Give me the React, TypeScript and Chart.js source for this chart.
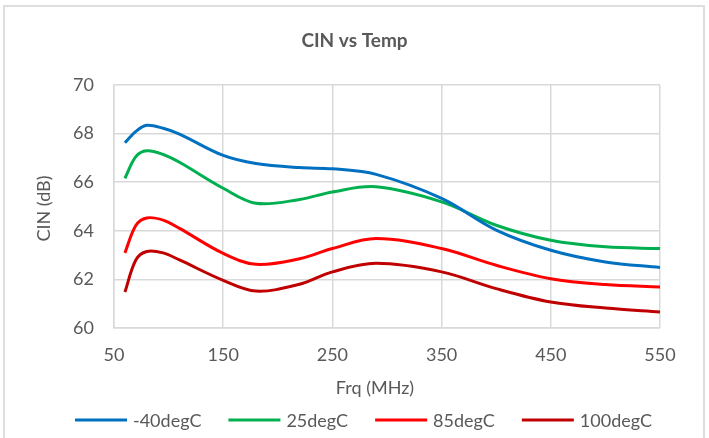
import React, { useEffect, useRef } from 'react';
import { Chart, registerables } from 'chart.js';

Chart.register(...registerables);

const chartTitle = 'CIN vs Temp';
const xAxisTitle = 'Frq (MHz)';
const yAxisTitle = 'CIN (dB)';

const frequencies = [60, 70, 80, 95, 110, 150, 180, 220, 250, 290, 350, 400, 450, 500, 550];
const cinM40 = [67.62, 68.09, 68.34, 68.22, 67.98, 67.1, 66.77, 66.6, 66.55, 66.32, 65.33, 64.03, 63.2, 62.72, 62.49];
const cin25 = [66.16, 67.05, 67.29, 67.14, 66.82, 65.75, 65.13, 65.29, 65.6, 65.81, 65.19, 64.23, 63.61, 63.34, 63.27];
const cin85 = [63.09, 64.22, 64.53, 64.44, 64.1, 63.07, 62.62, 62.85, 63.27, 63.68, 63.27, 62.58, 62.03, 61.79, 61.69];
const cin100 = [61.48, 62.8, 63.15, 63.09, 62.8, 61.96, 61.52, 61.8, 62.31, 62.66, 62.31, 61.62, 61.07, 60.82, 60.66];

const seriesLabels = ['-40degC', '25degC', '85degC', '100degC'];
const seriesValues = [cinM40, cin25, cin85, cin100];
const seriesColors = ['#0070C0', '#00B050', '#FF0000', '#C00000'];

const xMin = 50;
const xMax = 550;
const xStep = 100;
const yMin = 60;
const yMax = 70;
const yStep = 2;

const FONT = 'Lato, "Open Sans", sans-serif';
const TEXT = '#595959';
const GRID = '#d9d9d9';

const decorPlugin = {
  id: 'decor',
  beforeDraw(chart: any) {
    const ctx = chart.ctx;
    ctx.save();
    ctx.strokeStyle = '#dedede';
    ctx.lineWidth = 2;
    ctx.beginPath();
    ctx.moveTo(4, 460);
    ctx.lineTo(4, 6);
    ctx.lineTo(704, 6);
    ctx.lineTo(704, 460);
    ctx.stroke();
    ctx.restore();
  },
  afterDraw(chart: any) {
    const ctx = chart.ctx;
    const area = chart.chartArea;
    ctx.save();
    ctx.fillStyle = TEXT;
    ctx.font = `bold 19px ${FONT}`;
    ctx.textAlign = 'center';
    ctx.textBaseline = 'alphabetic';
    ctx.fillText(chartTitle, 354.5, 46.5);
    ctx.font = `18px ${FONT}`;
    ctx.fillText(xAxisTitle, 375, 394);
    ctx.save();
    ctx.translate(50, (area.top + area.bottom) / 2 + 2);
    ctx.rotate(-Math.PI / 2);
    ctx.fillText(yAxisTitle, 0, 0);
    ctx.restore();
    ctx.font = `18px ${FONT}`;
    const lineLen = 52;
    const textGap = 6;
    const itemGap = 27;
    const widths = chart.data.datasets.map((d: any) => lineLen + textGap + ctx.measureText(d.label).width);
    const total = widths.reduce((a: number, b: number) => a + b, 0) + itemGap * (widths.length - 1);
    let x = 363.5 - total / 2;
    const ly = 420;
    chart.data.datasets.forEach((d: any, i: number) => {
      ctx.strokeStyle = d.borderColor;
      ctx.lineWidth = 3;
      ctx.beginPath();
      ctx.moveTo(x, ly);
      ctx.lineTo(x + lineLen, ly);
      ctx.stroke();
      ctx.textAlign = 'left';
      ctx.fillStyle = TEXT;
      ctx.fillText(d.label, x + lineLen + textGap, 426.5);
      x += widths[i] + itemGap;
    });
    ctx.restore();
  },
};

export default function App() {
  const canvasRef = useRef<HTMLCanvasElement | null>(null);

  useEffect(() => {
    if (!canvasRef.current) return;
    const chart = new Chart(canvasRef.current, {
      type: 'line',
      data: {
        datasets: seriesLabels.map((label, i) => ({
          label,
          data: frequencies.map((f, j) => ({ x: f, y: seriesValues[i][j] })),
          borderColor: seriesColors[i],
          backgroundColor: seriesColors[i],
          borderWidth: 3,
          pointRadius: 0,
          fill: false,
          tension: 0.35,
        })),
      },
      options: {
        responsive: false,
        animation: false,
        devicePixelRatio: 1,
        layout: { padding: { top: 85, right: 49, bottom: 0, left: 0 } },
        plugins: {
          legend: { display: false },
          title: { display: false },
          tooltip: { enabled: false },
        },
        scales: {
          x: {
            type: 'linear',
            min: xMin,
            max: xMax,
            afterFit: (scale: any) => {
              scale.height = 110;
            },
            ticks: {
              stepSize: xStep,
              color: TEXT,
              font: { family: FONT, size: 18 },
              padding: 16,
              maxRotation: 0,
            },
            grid: { color: GRID, lineWidth: 1.5, drawTicks: false },
            border: { color: GRID, width: 1.5 },
          },
          y: {
            type: 'linear',
            min: yMin,
            max: yMax,
            afterFit: (scale: any) => {
              scale.width = 114;
            },
            ticks: {
              stepSize: yStep,
              color: TEXT,
              font: { family: FONT, size: 18 },
              padding: 20,
            },
            grid: { color: GRID, lineWidth: 1.5, drawTicks: false },
            border: { color: GRID, width: 1.5 },
          },
        },
      },
      plugins: [decorPlugin],
    });
    return () => chart.destroy();
  }, []);

  return (
    <div style={{ position: 'absolute', left: 0, top: 0, width: 709, height: 438, background: '#fff' }}>
      <canvas ref={canvasRef} width={709} height={438} />
    </div>
  );
}
